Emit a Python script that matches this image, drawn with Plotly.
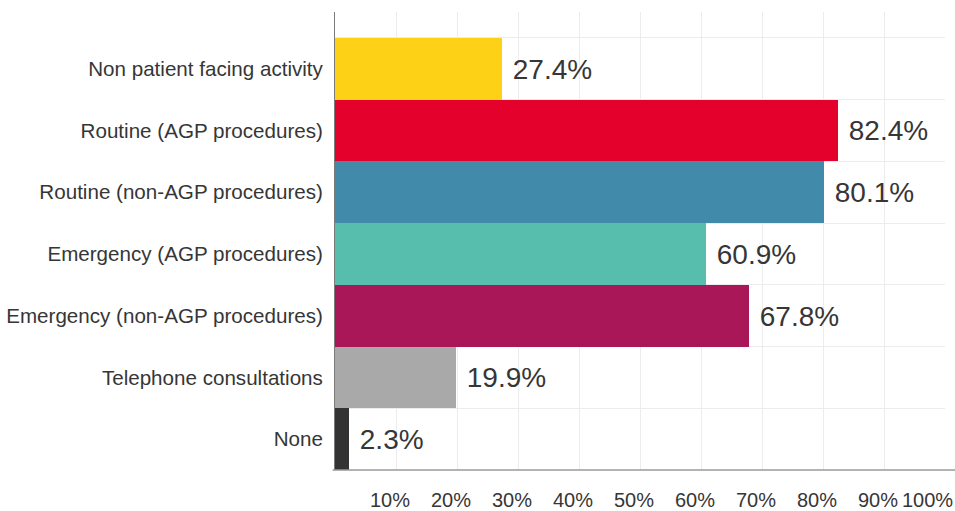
import plotly.graph_objects as go

categories = [
    "Non patient facing activity",
    "Routine (AGP procedures)",
    "Routine (non-AGP procedures)",
    "Emergency (AGP procedures)",
    "Emergency (non-AGP procedures)",
    "Telephone consultations",
    "None",
]
values = [27.4, 82.4, 80.1, 60.9, 67.8, 19.9, 2.3]
colors = ["#FDD116", "#E4022D", "#428AA9", "#57BDAD", "#AA1759", "#A8A9A8", "#333333"]
tick_vals = [10, 20, 30, 40, 50, 60, 70, 80, 90, 100]
tick_text = [f"{v}%" for v in tick_vals]

FONT = "Liberation Sans, Arial, sans-serif"
TXT = "#363636"

fig = go.Figure(
    go.Bar(
        x=values,
        y=categories,
        orientation="h",
        marker=dict(color=colors, line=dict(width=0)),
        text=["\u00a0" + f"{v}%" for v in values],
        textposition="outside",
        textfont=dict(size=28, color=TXT, family=FONT),
        cliponaxis=False,
        constraintext="none",
        hoverinfo="skip",
    )
)

fig.update_layout(
    width=955,
    height=511,
    margin=dict(l=335, r=10, t=12, b=41, autoexpand=False),
    paper_bgcolor="white",
    plot_bgcolor="white",
    bargap=0,
    showlegend=False,
    font=dict(family=FONT, color=TXT),
    xaxis=dict(
        range=[0, 100],
        tickvals=tick_vals[:-1],
        ticktext=tick_text[:-1],
        tickfont=dict(size=20, color=TXT, family=FONT),
        showgrid=True,
        gridcolor="#ececec",
        gridwidth=1,
        zeroline=False,
        showline=False,
        ticks="",
        ticklabelstandoff=16,
        ticklabelshift=-6,
        automargin=False,
        fixedrange=True,
    ),
    yaxis=dict(
        categoryorder="array",
        categoryarray=categories,
        range=[6.5, -0.92],
        tickson="boundaries",
        showgrid=True,
        gridcolor="#ececec",
        gridwidth=1,
        zeroline=False,
        showline=True,
        linecolor="#7a7a7a",
        linewidth=1,
        ticks="",
        ticklabelstandoff=7,
        tickfont=dict(size=20.6, color=TXT, family=FONT),
        automargin=False,
        fixedrange=True,
    ),
    annotations=[
        dict(
            x=tick_vals[-1],
            xref="x",
            y=0,
            yref="paper",
            text=tick_text[-1],
            showarrow=False,
            xanchor="right",
            yanchor="top",
            xshift=10,
            yshift=-17,
            font=dict(size=20, color=TXT, family=FONT),
        )
    ],
    shapes=[
        dict(
            type="line",
            xref="paper",
            yref="paper",
            x0=-0.004,
            x1=1.02,
            y0=0,
            y1=0,
            line=dict(color="#9a9a9a", width=1.5),
            layer="above",
        )
    ],
)

fig.write_html("out.html")
